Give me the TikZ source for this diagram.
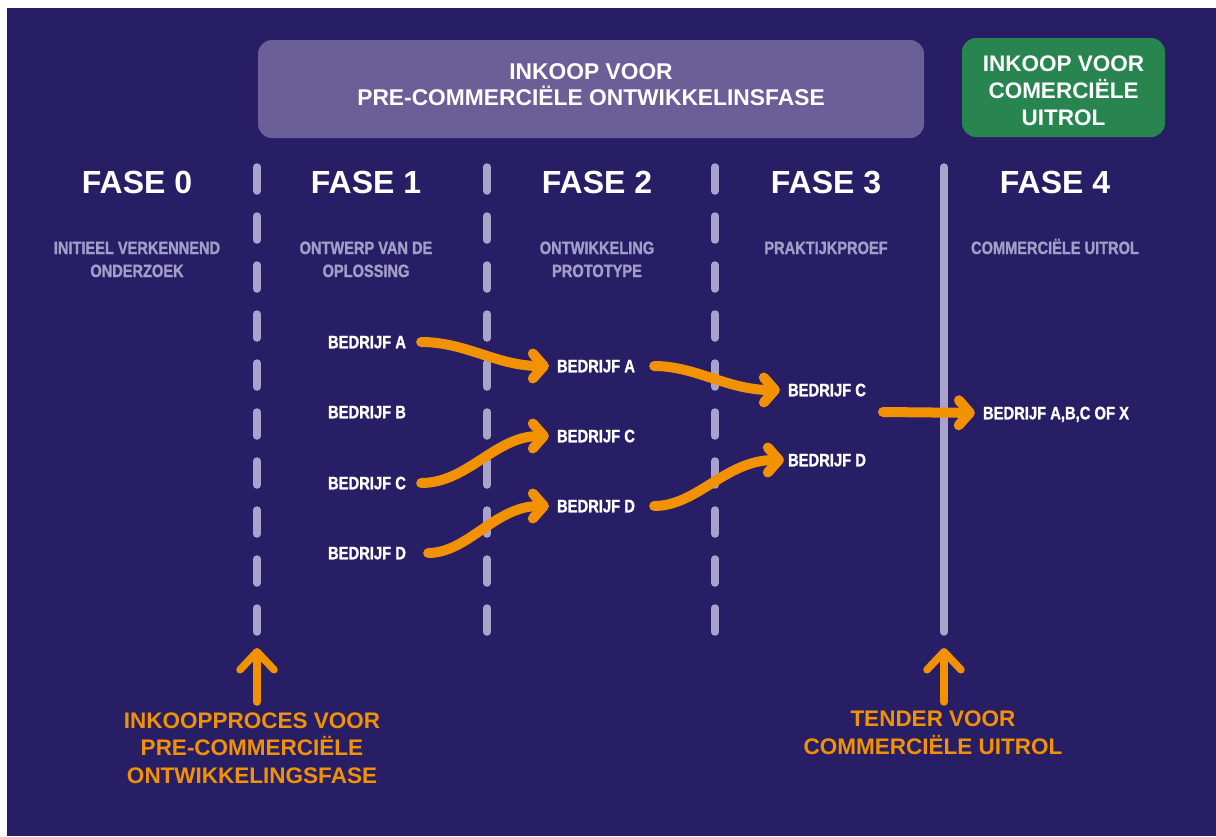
\documentclass[tikz,border=0pt]{standalone}
\usepackage{fontspec}
\setmainfont{Liberation Sans}
\newfontfamily\narrowfont[FakeStretch=0.82,FakeBold=1.2]{Liberation Sans}
\usetikzlibrary{arrows.meta}
\definecolor{navy}{HTML}{281E66}
\definecolor{boxpurple}{HTML}{6B5F98}
\definecolor{boxgreen}{HTML}{29854F}
\definecolor{lavender}{HTML}{A9A2CB}
\definecolor{subgrey}{HTML}{A39DC7}
\definecolor{flow}{HTML}{F39200}
\begin{document}
\begin{tikzpicture}[x=1pt,y=-1pt,
  fase/.style={text=white,inner sep=0pt,text height=23pt,text depth=0pt,
    font=\bfseries\fontsize{32}{32}\selectfont},
  subtitle/.style={text=subgrey,align=center,anchor=base,inner sep=0pt,
    font=\narrowfont\bfseries\fontsize{17.8}{23}\selectfont},
  bedrijf/.style={text=white,inner sep=0pt,text height=12.5pt,text depth=0pt,
    font=\narrowfont\bfseries\fontsize{18}{18}\selectfont},
  boxtext/.style={text=white,align=center,rounded corners=14pt,
    font=\bfseries\fontsize{22.8}{26}\selectfont},
  procedure/.style={text=flow,align=center,anchor=base,inner sep=0pt,
    font=\bfseries\fontsize{22.5}{27.5}\selectfont},
  phaseline/.style={draw=lavender,line width=7.5pt,line cap=round},
  flowarrow/.style={draw=flow,line width=10pt,line cap=round,shorten <=15pt,shorten >=8pt,
    -{Straight Barb[length=11pt,width=25pt,round]}},
  uparrow/.style={draw=flow,line width=7.5pt,line cap=round,
    -{Straight Barb[length=18pt,width=34pt,round]}}]
  \useasboundingbox (0,0) rectangle (1216,836);
  \fill[navy] (7,8) rectangle (1216,836);

  % inkoop boxes
  \node[boxtext,fill=boxpurple,minimum width=666pt,minimum height=98pt,text depth=8pt]
    (pcpbox) at (591,89) {INKOOP VOOR\\PRE-COMMERCIËLE ONTWIKKELINSFASE};
  \node[boxtext,fill=boxgreen,minimum width=203pt,minimum height=99pt,
    font=\bfseries\fontsize{22.5}{27}\selectfont,text height=75pt,text depth=0pt]
    (uitrolbox) at (1063.5,87.5) {INKOOP VOOR\\COMERCIËLE\\UITROL};

  % phase borders
  \foreach \x in {257,487,715}
    \draw[phaseline,dash pattern=on 24pt off 25pt] (\x,167) -- (\x,632);
  \draw[phaseline] (944,167) -- (944,632);

  % phases
  \node[fase] (fase0) at (137,182) {FASE 0};
  \node[fase] (fase1) at (366,182) {FASE 1};
  \node[fase] (fase2) at (597,182) {FASE 2};
  \node[fase] (fase3) at (826,182) {FASE 3};
  \node[fase] (fase4) at (1055,182) {FASE 4};
  \node[subtitle] (sub0) at (137,277) {INITIEEL VERKENNEND\\ONDERZOEK};
  \node[subtitle] (sub1) at (366,277) {ONTWERP VAN DE\\OPLOSSING};
  \node[subtitle] (sub2) at (597,277) {ONTWIKKELING\\PROTOTYPE};
  \node[subtitle] (sub3) at (826,254) {PRAKTIJKPROEF};
  \node[subtitle] (sub4) at (1055,254) {COMMERCIËLE UITROL};

  % companies
  \node[bedrijf] (f1a) at (367,342) {BEDRIJF A};
  \node[bedrijf] (f1b) at (367,412) {BEDRIJF B};
  \node[bedrijf] (f1c) at (367,483) {BEDRIJF C};
  \node[bedrijf] (f1d) at (367,553) {BEDRIJF D};
  \node[bedrijf] (f2a) at (596,366) {BEDRIJF A};
  \node[bedrijf] (f2c) at (596,436) {BEDRIJF C};
  \node[bedrijf] (f2d) at (596,506) {BEDRIJF D};
  \node[bedrijf] (f3c) at (827,390) {BEDRIJF C};
  \node[bedrijf] (f3d) at (827,460) {BEDRIJF D};
  \node[bedrijf] (f4) at (1056,413) {BEDRIJF A,B,C OF X};
  \coordinate (f3out) at (883,412);

  \draw[flowarrow] (f1a.east) to[out=0,in=180] (f2a.west);
  \draw[flowarrow] (f1c.east) to[out=0,in=180] (f2c.west);
  \draw[flowarrow,shorten <=22pt] (f1d.east) to[out=0,in=180] (f2d.west);
  \draw[flowarrow,shorten <=19pt] (f2a.east) to[out=0,in=180] (f3c.west);
  \draw[flowarrow,shorten <=19pt,shorten >=4pt] (f2d.east) to[out=0,in=180] (f3d.west);
  \draw[flowarrow,shorten <=0pt] (f3out) -- (f4.west);

  % procedures
  \node[procedure] (pcpproc) at (252,783) {INKOOPPROCES VOOR\\PRE-COMMERCIËLE\\ONTWIKKELINGSFASE};
  \node[procedure] (tender) at (933,754) {TENDER VOOR\\COMMERCIËLE UITROL};
  \coordinate (pcpfoot) at (257,702);
  \coordinate (pcpmark) at (257,648);
  \coordinate (tenderfoot) at (944,702);
  \coordinate (tendermark) at (944,648);
  \draw[uparrow] (pcpfoot) -- (pcpmark);
  \draw[uparrow] (tenderfoot) -- (tendermark);
\end{tikzpicture}
\end{document}
